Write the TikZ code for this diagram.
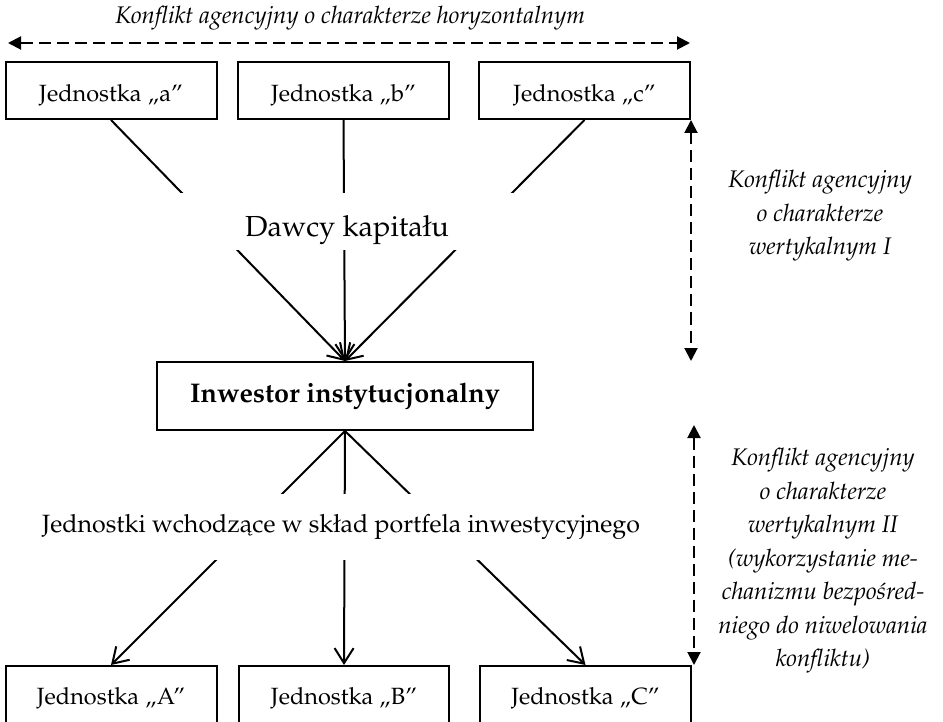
\documentclass[tikz,border=0pt]{standalone}
\usepackage[T1]{fontenc}
\usepackage{mathpazo}
\usetikzlibrary{arrows.meta}
\tikzset{
  unitbox/.style={draw, line width=2pt, minimum width=211pt, minimum height=57pt, inner sep=0pt, text height=27pt, text depth=4pt, font=\fontsize{23.5}{27}\selectfont},
  lowbox/.style={unitbox, minimum height=60pt, anchor=north, text height=20pt, text depth=4pt},
  mainbox/.style={draw, line width=2pt, minimum width=376pt, minimum height=68pt, inner sep=0pt, font=\fontsize{27}{30}\selectfont\bfseries},
  flow/.style={line width=2pt, -{Straight Barb[length=15pt, width=19pt, line width=2pt]}},
  conflict/.style={line width=2pt, dash pattern=on 12pt off 6pt, {Triangle[length=13pt, width=13pt]}-{Triangle[length=13pt, width=13pt]}},
  bandlabel/.style={fill=white, inner sep=0pt},
  sidetext/.style={align=center, font=\fontsize{24}{33.5}\selectfont\itshape},
}
\begin{document}
\begin{tikzpicture}[x=1pt, y=-1pt]
\useasboundingbox (0,0) rectangle (943,722);
\clip (0,0) rectangle (943,722);
% title
\node[font=\fontsize{24}{28}\selectfont\itshape] (title) at (350,18) {Konflikt agencyjny o charakterze horyzontalnym};
\coordinate (hl) at (8,43);
\coordinate (hr) at (690,43);
\draw[conflict] (hl) -- (hr);
% top boxes
\node[unitbox] (a) at (111,90.5) {Jednostka \quotedblbase a''};
\node[unitbox] (b) at (343.5,90.5) {Jednostka \quotedblbase b''};
\node[unitbox] (c) at (584.5,90.5) {Jednostka \quotedblbase c''};
% institutional investor
\node[mainbox] (inw) at (345,396) {Inwestor instytucjonalny};
% bottom boxes
\node[lowbox] (A) at (111,665) {Jednostka \quotedblbase A''};
\node[lowbox, minimum width=210pt] (B) at (344,665) {Jednostka \quotedblbase B''};
\node[lowbox] (C) at (585.5,665) {Jednostka \quotedblbase C''};
% flows
\draw[flow] (a.south) -- (inw.north);
\draw[flow] (b.south) -- (inw.north);
\draw[flow] (c.south) -- (inw.north);
\draw[flow] (inw.south) -- (A.north);
\draw[flow] (inw.south) -- (B.north);
\draw[flow] (inw.south) -- (C.north);
% band labels covering the flows
\node[bandlabel, minimum width=360pt, minimum height=57pt, text height=36pt, text depth=5pt, font=\fontsize{29}{32}\selectfont] (dawcy) at (347,221.5) {Dawcy kapita\l{}u};
\node[bandlabel, minimum width=300pt, minimum height=66pt, text height=16pt, text depth=6pt, font=\fontsize{25}{29}\selectfont] (jedn) at (341,527) {Jednostki wchodz\k{a}ce w sk\l{}ad portfela inwestycyjnego};
% vertical conflicts
\coordinate (v1t) at (691,120);
\coordinate (v1b) at (691,361);
\coordinate (v2t) at (694,425);
\coordinate (v2b) at (694,665);
\draw[conflict] (v1t) -- (v1b);
\draw[conflict] (v2t) -- (v2b);
\node[sidetext] (t1) at (820,216) {Konflikt agencyjny\\o charakterze\\wertykalnym I};
\node[sidetext] (t2) at (823,561) {Konflikt agencyjny\\o charakterze\\wertykalnym II\\(wykorzystanie me-\\chanizmu bezpo\'sred-\\niego do niwelowania\\konfliktu)};
\end{tikzpicture}
\end{document}
